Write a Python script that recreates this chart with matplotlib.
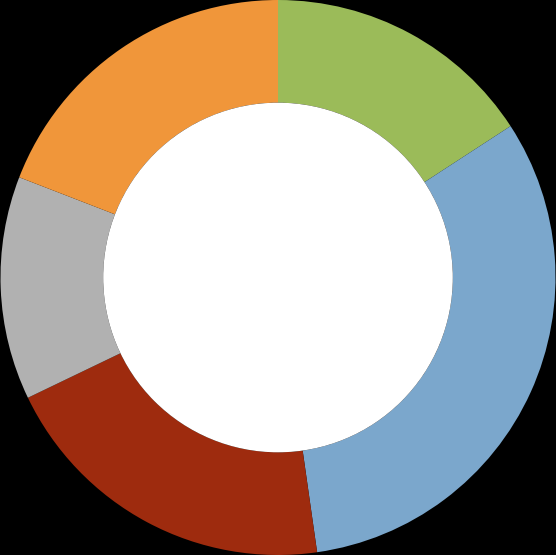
import matplotlib
matplotlib.use("Agg")
import matplotlib.pyplot as plt
from matplotlib.patches import Circle

# Slice shares, clockwise from 12 o'clock
labels = ["Green", "Blue", "Red", "Gray", "Orange"]
values = [15.8, 31.9, 20.1, 13.0, 19.1]
colors = ["#9BBB59", "#7BA7CC", "#9E2B0E", "#B1B1B1", "#F0963A"]

hole = 0.63  # inner radius relative to outer

fig = plt.figure(figsize=(5.56, 5.55), dpi=100, facecolor="black")
ax = fig.add_axes([0, 0, 1, 1])
ax.set_facecolor("black")

ax.pie(values, colors=colors, startangle=90, counterclock=False,
       radius=1.0, wedgeprops=dict(width=1 - hole, linewidth=0))

# white centre of the donut
ax.add_patch(Circle((0, 0), hole, facecolor="white", edgecolor="none"))

ax.set_xlim(-1.0, 1.0)
ax.set_ylim(-1.0, 1.0)
ax.set_aspect("equal")
ax.axis("off")

plt.savefig("out.png", facecolor="black")
